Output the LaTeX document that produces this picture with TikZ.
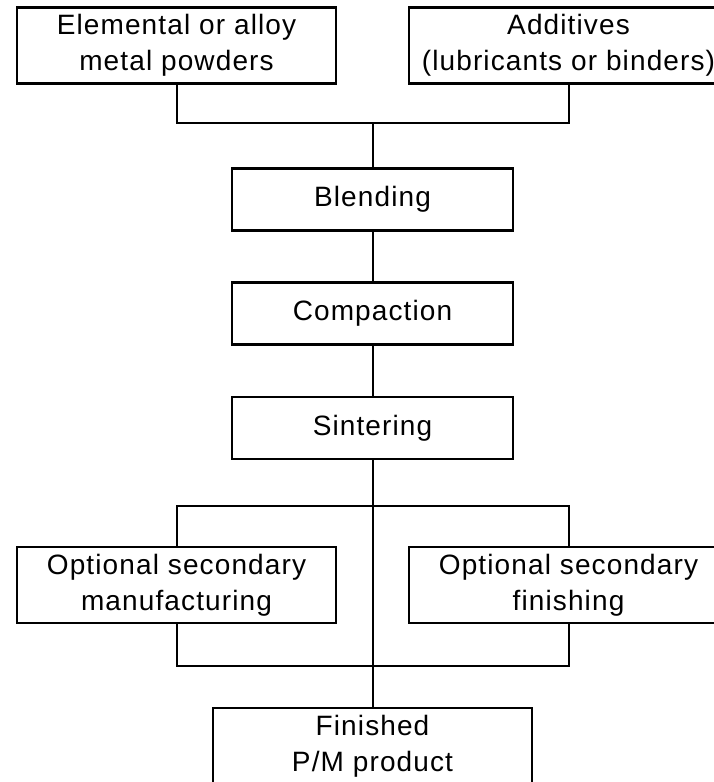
\documentclass[tikz,border=0pt]{standalone}
\usepackage{fontspec}
\setmainfont[LetterSpace=4]{Liberation Sans}
\usepackage{tikz}
\tikzstyle{line}  = [draw, line width=2pt]
\tikzstyle{wide}  = [draw, line width=2.6pt, inner sep=0pt, minimum width=319pt, minimum height=76pt, align=center, execute at begin node={\rule{0pt}{25pt}}]
\tikzstyle{stage} = [draw, line width=2.6pt, inner sep=0pt, minimum width=281pt, minimum height=62pt, align=center]

\begin{document}
\begin{tikzpicture}[x=1pt, y=-1pt, font=\fontsize{28}{36}\selectfont]

\clip (0,0) rectangle (714,782);

% nodes
\node [wide]  at ( 176.5 ,  45.5 ) (elem)    {Elemental or alloy\\metal powders};
\node [wide]  at ( 568.5 ,  45.5 ) (add)     {Additives\\(lubricants or binders)};
\node [stage] at ( 372.5 , 199.5 ) (blend)   {Blending};
\node [stage] at ( 372.5 , 313.5 ) (compact) {Compaction};
\node [stage] at ( 372.5 , 428   ) (sinter)  {Sintering};
\node [wide]  at ( 176.5 , 585   ) (optman)  {Optional secondary\\manufacturing};
\node [wide]  at ( 568.5 , 585   ) (optfin)  {Optional secondary\\finishing};
\node [wide]  at ( 372.5 , 746   ) (finish)  {Finished\\P/M product};

% joints
\coordinate (mix)   at ( 372.5 , 123 );
\coordinate (split) at ( 372.5 , 506 );
\coordinate (merge) at ( 372.5 , 666 );

% edges
\path [line] (elem)    |- (mix)   -| (add)
             (mix)     -- (blend)
             (blend)   -- (compact)
             (compact) -- (sinter)
             (sinter)  -- (finish)
             (optman)  |- (split) -| (optfin)
             (optman)  |- (merge) -| (optfin);

\end{tikzpicture}
\end{document}
